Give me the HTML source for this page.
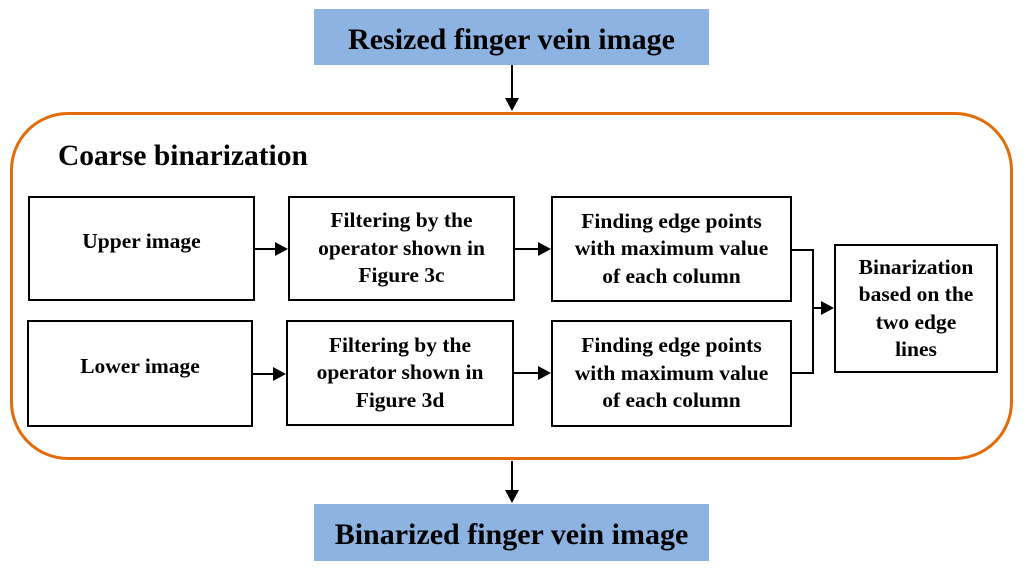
<!DOCTYPE html>
<html><head><style>
body{margin:0;width:1024px;height:570px;background:#fff;position:relative;overflow:hidden;font-family:"Liberation Serif",serif;font-weight:bold;color:#000}
.b{position:absolute;border:2px solid #000;box-sizing:border-box;display:flex;align-items:center;justify-content:center;text-align:center;font-size:21.5px;line-height:27.5px;background:#fff;white-space:nowrap}
.blue{position:absolute;background:#8db3e2;display:flex;align-items:center;justify-content:center;font-size:30px;padding-top:5px;box-sizing:border-box}
</style></head><body>
<div class="blue" style="left:314px;top:9px;width:395px;height:56px">Resized finger vein image</div>
<div class="blue" style="left:314px;top:504px;width:395px;height:57px">Binarized finger vein image</div>
<div style="position:absolute;left:10px;top:112px;width:1003px;height:348px;border:3px solid #e36c0a;border-radius:58px;box-sizing:border-box"></div>
<div style="position:absolute;left:58px;top:140px;font-size:29.5px">Coarse binarization</div>
<div class="b" style="left:28px;top:196px;width:227px;height:105px;align-items:flex-start;padding-top:30px">Upper image</div>
<div class="b" style="left:288px;top:196px;width:227px;height:105px">Filtering by the<br>operator shown in<br>Figure 3c</div>
<div class="b" style="left:551px;top:196px;width:241px;height:106px">Finding edge points<br>with maximum value<br>of each column</div>
<div class="b" style="left:27px;top:320px;width:226px;height:107px;align-items:flex-start;padding-top:31px">Lower image</div>
<div class="b" style="left:286px;top:320px;width:228px;height:106px">Filtering by the<br>operator shown in<br>Figure 3d</div>
<div class="b" style="left:551px;top:320px;width:241px;height:107px">Finding edge points<br>with maximum value<br>of each column</div>
<div class="b" style="left:834px;top:244px;width:164px;height:129px">Binarization<br>based on the<br>two edge<br>lines</div>
<svg width="1024" height="570" style="position:absolute;left:0;top:0" fill="#000" stroke="#000" stroke-width="2">
<line x1="512" y1="65" x2="512" y2="100"/><polygon stroke="none" points="505,98 519,98 512,111"/>
<line x1="512" y1="461" x2="512" y2="492"/><polygon stroke="none" points="505,490 519,490 512,503"/>
<line x1="255" y1="249" x2="276" y2="249"/><polygon stroke="none" points="275,242 288,249 275,256"/>
<line x1="515" y1="249" x2="539" y2="249"/><polygon stroke="none" points="538,242 551,249 538,256"/>
<line x1="253" y1="374" x2="274" y2="374"/><polygon stroke="none" points="273,367 286,374 273,381"/>
<line x1="514" y1="373" x2="539" y2="373"/><polygon stroke="none" points="538,366 551,373 538,380"/>
<polyline fill="none" points="792,250 813,250 813,373 792,373"/>
<line x1="813" y1="308" x2="822" y2="308"/><polygon stroke="none" points="821,301 834,308 821,315"/>
</svg>
</body></html>
